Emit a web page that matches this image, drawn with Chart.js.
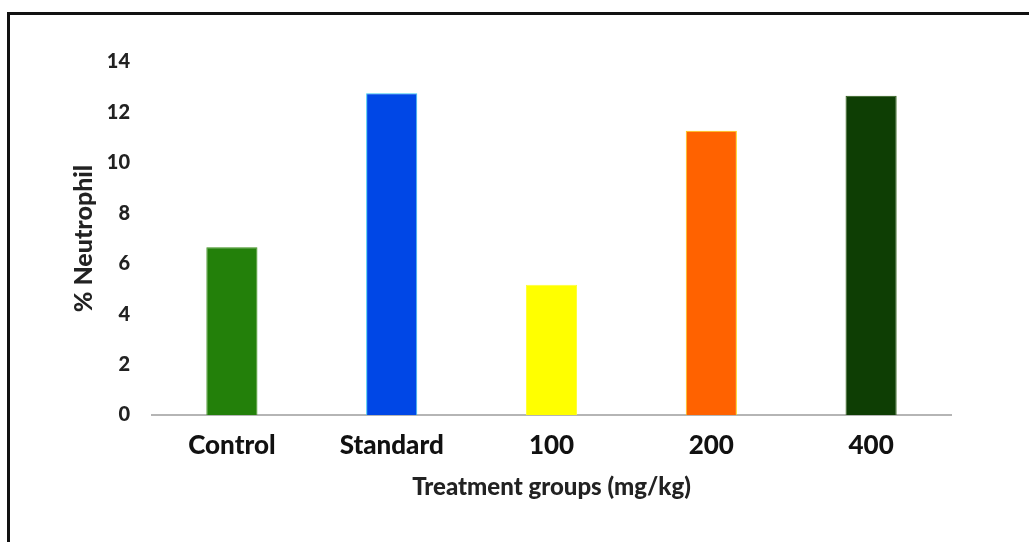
<!DOCTYPE html>
<html>
<head>
<meta charset="utf-8">
<script src="https://cdn.jsdelivr.net/npm/chart.js@4"></script>
<style>
  html, body { margin: 0; padding: 0; background: #fff; overflow: hidden; }
  #frame {
    position: absolute; left: 7px; top: 12px; width: 1100px; height: 600px;
    border-left: 3px solid #111; border-top: 3px solid #111;
  }
  #wrap { position: absolute; left: 0; top: 0; width: 1029px; height: 542px; }
</style>
</head>
<body>
<div id="frame"></div>
<div id="wrap"><canvas id="neutroChart" width="1029" height="542"></canvas></div>
<script>
// values
const groups = ['Control', 'Standard', '100', '200', '400'];
const neutrophil = [6.65, 12.76, 5.17, 11.27, 12.66];
const barColors = ['#23800a', '#0047e6', '#ffff00', '#ff6200', '#0e3e04'];
const edgeColors = ['#3a8f1a', '#35c8f0', '#ffff30', '#ffd000', '#2a5a10'];
const yTicks = [0, 2, 4, 6, 8, 10, 12, 14];

const font = 'Lato';

const ctx = document.getElementById('neutroChart').getContext('2d');
const chart = new Chart(ctx, {
    type: 'bar',
    data: {
        labels: groups,
        datasets: [{
            label: '% Neutrophil',
            data: neutrophil,
            backgroundColor: barColors,
            borderColor: edgeColors,
            borderWidth: 1,
            categoryPercentage: 1,
            barPercentage: 0.32
        }]
    },
    options: {
        responsive: false,
        animation: false,
        layout: {
            padding: { left: 0, top: 62, right: 78, bottom: 0 }
        },
        scales: {
            x: {
                grid: { display: false, drawTicks: false },
                border: { display: true, color: '#b5b5b5', width: 2 },
                ticks: {
                    color: '#111',
                    padding: 15,
                    font: { family: font, weight: '900', size: 26 }
                },
                title: {
                    display: true,
                    text: 'Treatment groups (mg/kg)',
                    color: '#222',
                    padding: { top: 0, bottom: 40 },
                    font: { family: font, weight: '900', size: 24 }
                },
                afterFit: function(scale) { scale.height = 542 - 415; }
            },
            y: {
                min: 0,
                max: 14,
                grid: { display: false, drawTicks: false },
                border: { display: false },
                afterBuildTicks: function(scale) {
                    scale.ticks = yTicks.map(v => ({ value: v }));
                },
                ticks: {
                    color: '#222',
                    padding: 22,
                    font: { family: font, weight: '900', size: 20 }
                },
                title: {
                    display: true,
                    text: '% Neutrophil',
                    color: '#222',
                    padding: { top: 69, bottom: 0 },
                    font: { family: font, weight: '900', size: 25 }
                },
                afterFit: function(scale) { scale.width = 152; }
            }
        },
        plugins: {
            legend: { display: false },
            tooltip: { enabled: false }
        }
    }
});
</script>
</body>
</html>
